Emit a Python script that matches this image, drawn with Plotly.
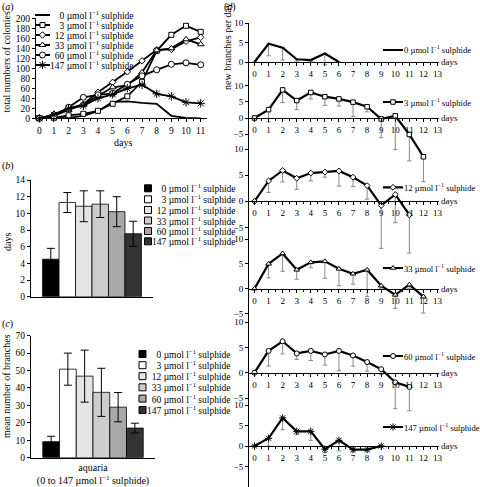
import plotly.graph_objects as go

FONT = "Liberation Serif"
W, H = 480, 487

# ---------------- data ----------------
conc_labels = ["0", "3", "12", "33", "60", "147"]

# (a) total numbers of colonies per day
days_a = [0, 1, 2, 3, 4, 5, 6, 7, 8, 9, 10, 11]
col_0 = [0, 0, 1, 5, 14, 33, 34, 31, 29, 5, 1, 0]
col_3 = [0, 1, 6, 9, 15, 29, 44, 73, 135, 167, 185, 173]
col_12 = [0, 8, 20, 28, 52, 72, 93, 115, 137, 138, 154, 162]
col_33 = [0, 5, 17, 27, 45, 62, 66, 92, 136, 140, 158, 148]
col_60 = [0, 4, 22, 42, 47, 50, 68, 85, 97, 108, 111, 107]
col_147 = [0, 7, 20, 25, 40, 48, 60, 67, 49, 44, 32, 30]

# (b) days
dur_mean = [4.5, 11.3, 10.85, 11.1, 10.2, 7.55]
dur_err = [1.3, 1.2, 1.85, 1.6, 1.8, 1.5]

# (c) mean number of branches
br_category = ["aquaria<br>(0 to 147 µmol l<sup>−1</sup> sulphide)"]
br_mean = [9.2, 50.8, 46.8, 37.5, 29.0, 17.0]
br_err = [3.1, 9.2, 14.9, 13.8, 8.4, 2.8]

# (d) new branches per day (value, lower error)
nb_0 = [0, 4.7, 3.7, 0.7, 0.5, 2.2, 0]
nb_0_err = [0, 3.1, 3.2, 0.5, 0.4, 2.9, 0]
nb_3 = [0, 2.6, 8.7, 5.4, 7.9, 6.6, 5.9, 4.9, 3.5, -0.3, 0.7, -5.1, -12.0]
nb_3_err = [0, 3.8, 3.9, 2.8, 2.0, 2.7, 2.2, 4.4, 1.6, 5.8, 10.5, 8.2, 7.7]
nb_12 = [0, 3.9, 5.9, 4.4, 5.4, 5.6, 5.8, 4.6, 3.0, -0.8, 1.3, -2.6]
nb_12_err = [0, 2.2, 2.2, 2.1, 1.5, 1.0, 2.9, 1.8, 2.6, 8.2, 5.4, 7.3]
nb_33 = [0, 5.0, 7.1, 3.8, 5.3, 5.5, 4.0, 3.0, 3.8, 0.6, -1.25, 0.8, -1.6]
nb_33_err = [0, 2.8, 3.6, 1.9, 1.1, 3.4, 3.4, 2.1, 5.4, 0.5, 2.7, 0.8, 3.3]
nb_60 = [0, 4.3, 6.2, 3.8, 4.3, 3.6, 4.3, 3.4, 2.1, 0.7, -1.9, -2.8]
nb_60_err = [0, 3.0, 2.5, 1.2, 1.9, 2.1, 3.9, 2.1, 1.8, 1.1, 5.2, 4.7]
nb_147 = [0, 1.9, 6.9, 3.6, 3.6, -0.8, 1.4, -0.9, -0.9, 0]
nb_147_err = [0, 1.9, 2.9, 0.8, 2.2, 0.8, 2.6, 0.5, 0.3, 0]
days_d_ticks = list(range(14))

# ---------------- styling helpers ----------------
def fx(p):
    return p / W


def fy(p):
    return 1 - p / H


def conc_text(c, pad_to=3):
    pad = "\u2007" * (pad_to - len(c))
    return f"{pad}{c} µmol l<sup>−1</sup> sulphide"


def leg_name(k):
    return "legend" if k == 1 else f"legend{k}"


bar_colors = ["#000000", "#ffffff", "#e4e4e4", "#cdcdcd", "#a8a8a8", "#333333"]
symbols = [None, "square", "diamond", "triangle-up", "circle", "asterisk-open"]
sizes_a = [0, 5, 5, 6, 6, 7]
sizes_d = [0, 4.5, 4.5, 5, 5, 6]

fig = go.Figure()
legends = {}
annotations = []
lk = 0


def new_legend(x_px, y_px, size):
    global lk
    lk += 1
    name = leg_name(lk)
    legends[name] = dict(
        x=fx(x_px), y=fy(y_px), xanchor="left", yanchor="middle",
        bgcolor="rgba(0,0,0,0)", borderwidth=0, itemwidth=30, tracegroupgap=0,
        font=dict(family=FONT, size=size, color="black"),
    )
    return name


def marker_for(i, sizes):
    sym = symbols[i]
    if sym is None:
        return dict(size=0)
    col = "black" if sym.endswith("open") else "white"
    return dict(symbol=sym, size=sizes[i], color=col, line=dict(color="black", width=1))


def text_at(x_px, y_px, s, size):
    annotations.append(dict(
        x=fx(x_px), y=fy(y_px), xref="paper", yref="paper", text=s,
        showarrow=False, xanchor="left", yanchor="middle", borderpad=0,
        font=dict(family=FONT, size=size, color="black"),
    ))


# ---------------- (a) ----------------
series_a = [col_0, col_3, col_12, col_33, col_60, col_147]
leg_y_a = [15, 25, 35, 45, 55, 65]
for i, vals in enumerate(series_a):
    fig.add_trace(go.Scatter(
        x=days_a, y=vals, mode="lines" if i == 0 else "lines+markers",
        line=dict(color="black", width=1.8), marker=marker_for(i, sizes_a),
        showlegend=False, xaxis="x", yaxis="y", cliponaxis=False,
    ))
    # legend key: a short (15 px) line sample with the series marker
    lg = new_legend(22.5, leg_y_a[i], 9.5)
    fig.add_trace(go.Scatter(
        x=[None], y=[None], mode="lines" if i == 0 else "lines+markers",
        line=dict(color="black", width=1.8, dash="0px,7.5px,15px,7.5px"),
        marker=marker_for(i, sizes_a), name=" ", legend=lg, xaxis="x", yaxis="y",
    ))
    text_at(49, leg_y_a[i], conc_text(conc_labels[i]), 9.5)

# ---------------- (b) & (c) bars ----------------
bar_panels = [
    ("x2", "y2", dur_mean, dur_err, [188.3, 199.3, 210, 220.5, 231, 241.3], 148, 151),
    ("x3", "y3", br_mean, br_err, [354, 365.2, 376.2, 387.3, 398.6, 410], 142.5, 146),
]
for xa, ya, means, errs, leg_ys, mk_x, txt_x in bar_panels:
    for i in range(6):
        fig.add_trace(go.Bar(
            x=br_category, y=[means[i]], xaxis=xa, yaxis=ya, showlegend=False,
            marker=dict(color=bar_colors[i], line=dict(color="black", width=0.8)),
            error_y=dict(type="data", array=[errs[i]], color="black", thickness=1, width=4),
        ))
        lg = new_legend(mk_x - 20, leg_ys[i], 9.5)
        fig.add_trace(go.Scatter(
            x=[None], y=[None], mode="markers", xaxis=xa, yaxis=ya, name=" ",
            legend=lg,
            marker=dict(symbol="square", size=7, color=bar_colors[i],
                        line=dict(color="black", width=1)),
        ))
        text_at(txt_x, leg_ys[i], conc_text(conc_labels[i]), 9.5)

# ---------------- (d) ----------------
series_d = [nb_0, nb_3, nb_12, nb_33, nb_60, nb_147]
errs_d = [nb_0_err, nb_3_err, nb_12_err, nb_33_err, nb_60_err, nb_147_err]
# zero-line pixel, pixels per unit, lower range for each stacked chart
zero_px = [62, 118, 201.3, 288.7, 372.7, 446]
pxu = [3.87, 3.23, 5.23, 4.97, 5.07, 4.07]
lows = [-6.12, -20.5, -10.8, -6.7, -8.2, -10.0]
leg_y_d = [50, 102, 187.3, 268, 356, 427]
ytv = [[0, 5, 10]] + [[-5, 0, 5, 10]] * 5

axes = {}
for k in range(6):
    n = 4 + k
    xa, ya = f"x{n}", f"y{n}"
    vals = series_d[k]
    fig.add_trace(go.Scatter(
        x=list(range(len(vals))), y=vals, mode="lines" if k == 0 else "lines+markers",
        line=dict(color="black", width=2.2), marker=marker_for(k, sizes_d),
        error_y=dict(type="data", symmetric=False, array=[0] * len(vals),
                     arrayminus=errs_d[k], color="#8a8a8a", thickness=1, width=2.2),
        showlegend=False, xaxis=xa, yaxis=ya, cliponaxis=False,
    ))
    # legend key: 20 px line sample with marker, then the label
    lg = new_legend(373, leg_y_d[k], 9)
    fig.add_trace(go.Scatter(
        x=[None], y=[None], mode="lines" if k == 0 else "lines+markers",
        line=dict(color="black", width=2.2, dash="0px,5px,20px,5px"),
        marker=marker_for(k, sizes_d), name=" ", legend=lg, xaxis=xa, yaxis=ya,
    ))
    text_at(403, leg_y_d[k], conc_text(conc_labels[k], pad_to=0), 8.6)

    top_px = zero_px[k] - 10 * pxu[k]
    bot_px = zero_px[k] - lows[k] * pxu[k]
    axes[f"xaxis{n}"] = dict(
        domain=[fx(249), fx(439)], range=[-0.39, 13.107], anchor="free",
        position=fy(zero_px[k]), tickmode="array", tickvals=days_d_ticks,
        ticks="outside", ticklen=3, showline=True, linecolor="black", linewidth=1,
        tickcolor="black", showgrid=False, zeroline=False,
        tickfont=dict(family=FONT, size=9, color="black"),
        minor=dict(tickvals=[d + 0.5 for d in days_d_ticks[:-1]], ticks="outside",
                   ticklen=2, tickcolor="black", showgrid=False),
    )
    axes[f"yaxis{n}"] = dict(
        domain=[fy(bot_px), fy(top_px)], range=[lows[k], 10], anchor=xa,
        tickmode="array", tickvals=ytv[k], ticks="outside", ticklen=3,
        showline=True, linecolor="black", linewidth=1, tickcolor="black",
        showgrid=False, zeroline=False,
        tickfont=dict(family=FONT, size=9, color="black"),
    )
    annotations.append(dict(
        x=fx(440), y=fy(zero_px[k]), xref="paper", yref="paper", text="days",
        showarrow=False, xanchor="left", yanchor="middle", borderpad=0,
        font=dict(family=FONT, size=9, color="black"),
    ))

# ---------------- axes (a)-(c) ----------------
common = dict(showline=True, linecolor="black", linewidth=1, tickcolor="black",
              showgrid=False, zeroline=False, ticks="outside", ticklen=3,
              tickfont=dict(family=FONT, size=9.5, color="black"))
axes["xaxis"] = dict(domain=[fx(36), fx(207.3)], range=[-0.225, 11.45], anchor="y",
                     tickmode="array", tickvals=days_a,
                     minor=dict(tickvals=[d + 0.5 for d in days_a[:-1]], ticks="outside",
                                ticklen=2, tickcolor="black", showgrid=False),
                     **common)
axes["yaxis"] = dict(domain=[fy(118.3), fy(18.3)], range=[0, 200], anchor="x",
                     tickmode="linear", tick0=0, dtick=20, **common)
axes["xaxis2"] = dict(domain=[fx(31), fx(153)], anchor="y2", type="category",
                      showticklabels=False, showline=True, linecolor="black",
                      showgrid=False, zeroline=False, ticks="")
axes["yaxis2"] = dict(domain=[fy(296.7), fy(180)], range=[0, 14], anchor="x2",
                      tickmode="linear", tick0=0, dtick=2, **common)
axes["xaxis3"] = dict(domain=[fx(31), fx(155)], anchor="y3", type="category",
                      showline=True, linecolor="black", showgrid=False, zeroline=False,
                      ticks="", tickfont=dict(family=FONT, size=10, color="black"))
axes["yaxis3"] = dict(domain=[fy(457.7), fy(335.7)], range=[0, 70], anchor="x3",
                      tickmode="linear", tick0=0, dtick=10, **common)

# ---------------- text ----------------
def txt(x, y, s, size=10, angle=0, anchor="center"):
    annotations.append(dict(x=fx(x), y=fy(y), xref="paper", yref="paper", text=s,
                            showarrow=False, textangle=angle, xanchor=anchor,
                            yanchor="middle", borderpad=0,
                            font=dict(family=FONT, size=size, color="black")))


txt(1, 7, "(<i>a</i>)", anchor="left")
txt(1, 166, "(<i>b</i>)", anchor="left")
txt(1, 324, "(<i>c</i>)", anchor="left")
txt(223, 7, "(<i>d</i>)", anchor="left")
txt(6, 62.5, "total numbers of colonies", angle=-90)
txt(8, 242, "days", angle=-90)
txt(6, 386, "mean number of branches", angle=-90)
txt(227, 47, "new branches per day", angle=-90)
txt(123, 142, "days")

fig.update_layout(
    template="none", width=W, height=H,
    margin=dict(l=0, r=0, t=0, b=0, autoexpand=False),
    paper_bgcolor="white", plot_bgcolor="rgba(0,0,0,0)",
    font=dict(family=FONT, size=10, color="black"),
    barmode="group", bargap=0.19, bargroupgap=0,
    annotations=annotations, **axes, **legends,
)

fig.write_html(
    "out.html",
    config={"displayModeBar": False},
    post_script="document.body.style.margin='0px';document.body.style.overflow='hidden';",
)
